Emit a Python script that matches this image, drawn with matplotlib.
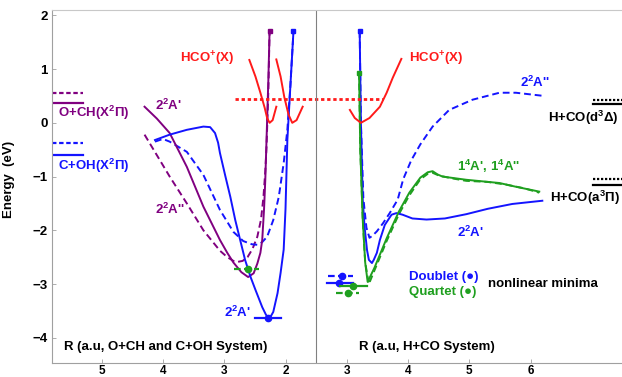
import matplotlib
matplotlib.use("Agg")
import matplotlib.pyplot as plt

plt.rcParams['font.family'] = ['Liberation Sans', 'DejaVu Sans']
plt.rcParams['font.weight'] = 'bold'
plt.rcParams['mathtext.fontset'] = 'custom'
plt.rcParams['mathtext.rm'] = 'Liberation Sans:bold'
plt.rcParams['mathtext.bf'] = 'Liberation Sans:bold'
plt.rcParams['mathtext.it'] = 'Liberation Sans:bold'
plt.rcParams['mathtext.default'] = 'bf'

BLUE = '#1414ff'
PURPLE = '#800080'
RED = '#ff1a1a'
GREEN = '#1f9f1f'

# ---------------- data: left panel (O+CH, C+OH), R in a.u. ----------------
och_2Ap_R = [4.30, 4.10, 3.89, 3.61, 3.34, 3.07, 2.95, 2.85, 2.72, 2.61, 2.52, 2.46, 2.41, 2.38, 2.35, 2.33, 2.31, 2.28, 2.26]
och_2Ap_E = [0.30, 0.08, -0.19, -0.82, -1.56, -2.18, -2.42, -2.60, -2.78, -2.87, -2.80, -2.62, -2.42, -2.18, -1.60, -1.06, -0.32, 0.80, 1.71]

och_2App_R = [4.30, 4.10, 3.89, 3.61, 3.34, 3.07, 2.95, 2.85, 2.79, 2.70, 2.62, 2.54, 2.46, 2.40, 2.36, 2.33, 2.31, 2.28, 2.26]
och_2App_E = [-0.22, -0.60, -1.00, -1.50, -2.00, -2.38, -2.50, -2.57, -2.59, -2.57, -2.50, -2.35, -2.12, -1.80, -1.38, -0.90, -0.45, 0.60, 1.71]

coh_2Ap_R = [4.13, 3.89, 3.61, 3.34, 3.23, 3.15, 3.10, 3.07, 2.98, 2.90, 2.82, 2.74, 2.66, 2.57, 2.49, 2.38, 2.32, 2.28, 2.24, 2.20, 2.13, 2.08, 2.03, 2.00, 1.97, 1.92, 1.87]
coh_2Ap_E = [-0.32, -0.22, -0.13, -0.07, -0.08, -0.19, -0.37, -0.56, -1.00, -1.38, -1.81, -2.18, -2.55, -2.87, -3.11, -3.43, -3.57, -3.63, -3.60, -3.52, -3.17, -2.79, -2.36, -1.60, -0.32, 0.70, 1.71]

coh_2App_R = [4.13, 4.00, 3.89, 3.61, 3.34, 3.07, 2.85, 2.69, 2.55, 2.46, 2.38, 2.30, 2.20, 2.11, 2.03, 1.97, 1.92, 1.87]
coh_2App_E = [-0.35, -0.30, -0.35, -0.54, -0.97, -1.62, -2.03, -2.20, -2.26, -2.27, -2.22, -2.12, -1.81, -1.38, -0.75, -0.13, 0.70, 1.71]

hco_L1_R = [2.59, 2.49, 2.41, 2.34, 2.30, 2.26, 2.21, 2.15]
hco_L1_E = [1.17, 0.86, 0.56, 0.28, 0.09, 0.00, 0.05, 0.30]
hco_L2_R = [2.15, 2.08, 2.02, 1.95, 1.89, 1.82, 1.72]
hco_L2_E = [1.18, 0.86, 0.48, 0.15, 0.00, 0.05, 0.30]

# ---------------- data: right panel (H+CO), R in a.u. ----------------
hco_2Ap_R = [3.21, 3.23, 3.26, 3.29, 3.33, 3.36, 3.41, 3.44, 3.49, 3.54, 3.62, 3.73, 3.81, 3.91, 4.07, 4.30, 4.60, 4.95, 5.30, 5.70, 6.19]
hco_2Ap_E = [1.71, 0.00, -1.43, -1.94, -2.37, -2.55, -2.61, -2.55, -2.42, -2.18, -1.90, -1.71, -1.68, -1.71, -1.78, -1.80, -1.78, -1.70, -1.60, -1.51, -1.45]

hco_2App_R = [3.21, 3.23, 3.27, 3.32, 3.37, 3.42, 3.49, 3.59, 3.70, 3.83, 3.92, 4.05, 4.20, 4.40, 4.67, 5.05, 5.49, 5.76, 6.22]
hco_2App_E = [1.71, 0.00, -1.40, -1.95, -2.14, -2.10, -2.02, -1.87, -1.68, -1.43, -1.05, -0.70, -0.40, -0.07, 0.24, 0.43, 0.56, 0.56, 0.50]

hco_4Ap_R = [3.20, 3.22, 3.26, 3.30, 3.34, 3.45, 3.65, 3.85, 4.02, 4.20, 4.32, 4.40, 4.48, 4.56, 4.95, 5.49, 5.76, 6.14]
hco_4Ap_E = [0.93, -0.50, -1.80, -2.60, -2.96, -2.70, -2.15, -1.65, -1.30, -1.02, -0.92, -0.90, -0.96, -1.00, -1.06, -1.12, -1.19, -1.28]

hco_4App_R = [3.20, 3.22, 3.26, 3.30, 3.36, 3.45, 3.65, 3.85, 4.02, 4.20, 4.32, 4.40, 4.50, 4.70, 4.95, 5.30, 5.60, 5.90, 6.14]
hco_4App_E = [0.93, -0.50, -1.80, -2.60, -3.00, -2.75, -2.20, -1.70, -1.35, -1.05, -0.95, -0.93, -0.98, -1.03, -1.08, -1.10, -1.15, -1.22, -1.30]

hco_R_R = [3.05, 3.13, 3.23, 3.37, 3.54, 3.65, 3.75, 3.89]
hco_R_E = [0.24, 0.09, 0.00, 0.09, 0.30, 0.56, 0.84, 1.19]

hco_ion_level = 0.44
hco_ion_Rleft, hco_ion_Rright = 2.82, 3.59

# asymptote levels
och_levels = [0.56, 0.37]      # dotted, solid
coh_levels = [-0.37, -0.60]
hco_d_levels = [0.43, 0.35]
hco_a_levels = [-1.04, -1.15]

# nonlinear minima: (R_lo, R_hi, R_dot, E)
left_min_green = (2.84, 2.44, 2.62, -2.72)
left_min_blue = (2.49, 2.07, 2.28, -3.63)
right_min_blue_d = (2.69, 3.10, 2.92, -2.85)
right_min_blue_s = (2.67, 3.10, 2.87, -2.98)
right_min_green_s = (2.89, 3.33, 3.10, -3.04)
right_min_green_d = (2.82, 3.20, 3.02, -3.17)

left_ticks = [5, 4, 3, 2]
right_ticks = [3, 4, 5, 6]
y_ticks = [-4, -3, -2, -1, 0, 1, 2]

# ---------------- coordinate helpers ----------------
def uL(R):
    if isinstance(R, (list, tuple)):
        return [1.5 - r for r in R]
    return 1.5 - R

def uR(R):
    if isinstance(R, (list, tuple)):
        return [r - 2.5 for r in R]
    return R - 2.5

fig = plt.figure(figsize=(6.22, 3.77), dpi=100)
ax = fig.add_axes([52/622, 14/377, 570/622, 353/377])
ax.set_xlim(-4.31, 4.99)
ax.set_ylim(-4.47, 2.10)

lw = 1.4
dash = (0, (3.5, 2))

# left curves
ax.plot(uL(och_2App_R), och_2App_E, color=PURPLE, lw=lw, ls=dash)
ax.plot(uL(coh_2App_R), coh_2App_E, color=BLUE, lw=lw, ls=dash)
ax.plot(uL(och_2Ap_R), och_2Ap_E, color=PURPLE, lw=lw)
ax.plot(uL(coh_2Ap_R), coh_2Ap_E, color=BLUE, lw=lw)
ax.plot(uL(hco_L1_R), hco_L1_E, color=RED, lw=lw)
ax.plot(uL(hco_L2_R), hco_L2_E, color=RED, lw=lw)
ax.plot([uL(och_2Ap_R[-1])], [och_2Ap_E[-1]], 's', color=PURPLE, ms=3.5)
ax.plot([uL(coh_2Ap_R[-1])], [coh_2Ap_E[-1]], 's', color=BLUE, ms=3.5)

# right curves
ax.plot(uR(hco_2App_R), hco_2App_E, color=BLUE, lw=lw, ls=dash)
ax.plot(uR(hco_4App_R), hco_4App_E, color=GREEN, lw=lw, ls=dash)
ax.plot(uR(hco_2Ap_R), hco_2Ap_E, color=BLUE, lw=lw)
ax.plot(uR(hco_4Ap_R), hco_4Ap_E, color=GREEN, lw=lw)
ax.plot(uR(hco_R_R), hco_R_E, color=RED, lw=lw)
ax.plot([uR(hco_2Ap_R[0])], [hco_2Ap_E[0]], 's', color=BLUE, ms=3.5)
ax.plot([uR(hco_4Ap_R[0])], [hco_4Ap_E[0]], 's', color=GREEN, ms=3.5)

# ion level dotted line
ax.plot([uL(hco_ion_Rleft), uR(hco_ion_Rright)], [hco_ion_level]*2, color=RED, lw=2.0, ls=(0, (1.2, 1.0)))

# asymptote levels, left
xl0, xl1 = -4.31, -3.80
ax.plot([xl0, xl1], [och_levels[0]]*2, color=PURPLE, lw=1.6, ls=(0, (2, 1.2)))
ax.plot([xl0, xl1], [och_levels[1]]*2, color=PURPLE, lw=1.6)
ax.plot([xl0, xl1], [coh_levels[0]]*2, color=BLUE, lw=1.6, ls=(0, (2, 1.2)))
ax.plot([xl0, xl1], [coh_levels[1]]*2, color=BLUE, lw=1.6)
# right
xr0, xr1 = 4.52, 4.99
ax.plot([xr0, xr1], [hco_d_levels[0]]*2, color='black', lw=1.6, ls=(0, (1, 0.8)))
ax.plot([xr0, xr1], [hco_d_levels[1]]*2, color='black', lw=1.6)
ax.plot([xr0, xr1], [hco_a_levels[0]]*2, color='black', lw=1.6, ls=(0, (1, 0.8)))
ax.plot([xr0, xr1], [hco_a_levels[1]]*2, color='black', lw=1.6)

# minima markers
def minmark(m, conv, color, ls):
    lo, hi, d, e = m
    ax.plot([conv(lo), conv(hi)], [e, e], color=color, lw=1.6, ls=ls)
    ax.plot([conv(d)], [e], 'o', color=color, ms=4.5)

minmark(left_min_green, uL, GREEN, (0, (3, 1.5)))
minmark(left_min_blue, uL, BLUE, '-')
minmark(right_min_blue_d, uR, BLUE, (0, (3, 1.5)))
minmark(right_min_blue_s, uR, BLUE, '-')
minmark(right_min_green_s, uR, GREEN, '-')
minmark(right_min_green_d, uR, GREEN, (0, (3, 1.5)))

# separator
ax.axvline(0, color='#808080', lw=0.8)

# labels
fs = 9.5
ax.text(-1.78, 1.19, "HCO$^{+}$(X)", color=RED, fontsize=fs, ha='center', va='center')
ax.text(1.96, 1.19, "HCO$^{+}$(X)", color=RED, fontsize=fs, ha='center', va='center')
ax.text(-2.41, 0.32, "2$^2$A'", color=PURPLE, fontsize=fs, ha='center', va='center')
ax.text(-2.38, -1.62, "2$^2$A''", color=PURPLE, fontsize=fs, ha='center', va='center')
ax.text(-1.29, -3.52, "2$^2$A'", color=BLUE, fontsize=fs, ha='center', va='center')
ax.text(-4.21, 0.19, "O+CH(X$^2$Π)", color=PURPLE, fontsize=fs, ha='left', va='center')
ax.text(-4.21, -0.80, "C+OH(X$^2$Π)", color=BLUE, fontsize=fs, ha='left', va='center')
ax.text(3.57, 0.76, "2$^2$A''", color=BLUE, fontsize=fs, ha='center', va='center')
ax.text(2.82, -0.82, "1$^4$A', 1$^4$A''", color=GREEN, fontsize=fs, ha='center', va='center')
ax.text(2.51, -2.03, "2$^2$A'", color=BLUE, fontsize=fs, ha='center', va='center')
ax.text(3.78, 0.09, "H+CO(d$^3$Δ)", color='black', fontsize=fs, ha='left', va='center')
ax.text(3.82, -1.40, "H+CO(a$^3$Π)", color='black', fontsize=fs, ha='left', va='center')
ax.text(1.52, -2.87, "Doublet (●)", color=BLUE, fontsize=fs, ha='left', va='center')
ax.text(1.52, -3.15, "Quartet (●)", color=GREEN, fontsize=fs, ha='left', va='center')
ax.text(2.81, -3.0, "nonlinear minima", color='black', fontsize=fs, ha='left', va='center')
ax.text(-2.45, -4.17, "R (a.u, O+CH and C+OH System)", color='black', fontsize=fs, ha='center', va='center')
ax.text(1.81, -4.17, "R (a.u, H+CO System)", color='black', fontsize=fs, ha='center', va='center')

# axes styling
ax.set_xticks(uL(left_ticks) + uR(right_ticks))
ax.set_xticklabels([str(t) for t in left_ticks + right_ticks])
ax.set_yticks(y_ticks)
ax.set_yticklabels([str(t).replace('-', '\u2212') for t in y_ticks])
ax.tick_params(direction='in', length=3, width=0.6, color='#a0a0a0', labelsize=fs, pad=3)
ax.tick_params(axis='x', labelsize=8.5, pad=1.5)
for lab in ax.get_xticklabels() + ax.get_yticklabels():
    lab.set_fontweight('bold')
for s in ['left', 'bottom', 'top']:
    ax.spines[s].set_color('#a0a0a0')
    ax.spines[s].set_linewidth(0.8)
ax.spines['top'].set_color('#c8c8c8')
ax.spines['right'].set_visible(False)

ax.set_ylabel("Energy  (eV)", fontsize=fs, fontweight='bold')
ax.yaxis.set_label_coords(-0.065, 0.52)

fig.savefig("out.png", dpi=100)
